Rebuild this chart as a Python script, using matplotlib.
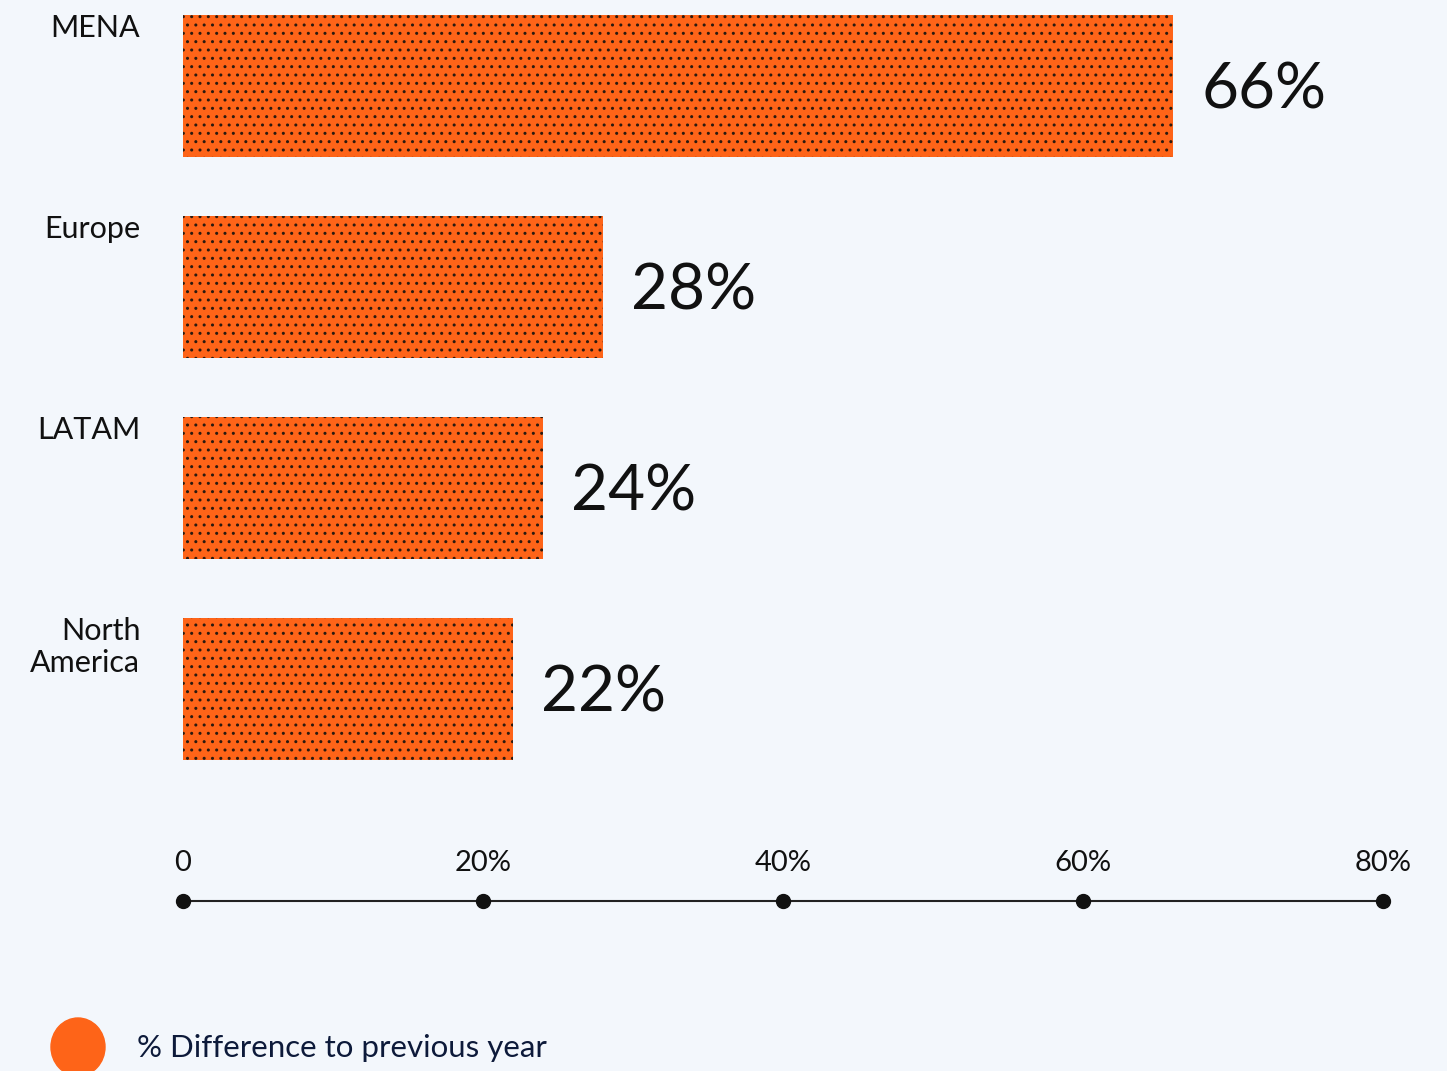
import matplotlib.pyplot as plt
from matplotlib.patches import Ellipse

# Data
regions = ["MENA", "Europe", "LATAM", "North\nAmerica"]
values = [66, 28, 24, 22]
x_ticks = [0, 20, 40, 60, 80]
x_tick_labels = ["0", "20%", "40%", "60%", "80%"]
legend_label = "% Difference to previous year"

BG = "#F3F7FC"
ORANGE = "#FE6418"
W, H = 1447, 1071

plt.rcParams["font.family"] = ["Lato", "DejaVu Sans"]
plt.rcParams["hatch.linewidth"] = 1.0
plt.rcParams["hatch.color"] = "#2a1a10"

fig = plt.figure(figsize=(W / 100, H / 100), dpi=100, facecolor=BG)
ax = fig.add_axes([183 / W, 0, 1200 / W, 1])
ax.set_facecolor(BG)
ax.set_xlim(0, 80)
# bars are spaced ~201 px apart, first center at 86 px from the top
ax.set_ylim((H - 86) / 201, -86 / 201)
ax.axis("off")

ypos = list(range(len(regions)))
ax.barh(ypos, values, height=0.71, color=ORANGE, edgecolor="#2a1a10",
        linewidth=0, hatch="..", zorder=2)

for y, name, v in zip(ypos, regions, values):
    ax.text(-2.85, y - 0.36, name, ha="right", va="top", fontsize=22,
            color="#111111", linespacing=1.2)
    ax.text(v + 1.9, y + 0.02, f"{v}%", ha="left", va="center", fontsize=46,
            color="#111111")

# custom x axis with dots
axis_y = (901 - 86) / 201
ax.plot([x_ticks[0], x_ticks[-1]], [axis_y, axis_y], color="#222222", lw=1.5,
        clip_on=False, zorder=3)
ax.plot(x_ticks, [axis_y] * len(x_ticks), "o", color="#111111", ms=10,
        clip_on=False, zorder=4)
for t, lab in zip(x_ticks, x_tick_labels):
    ax.text(t, axis_y - 0.19, lab, ha="center", va="center", fontsize=21,
            color="#111111")

# legend
fig.patches.append(Ellipse((78 / W, 1 - 1047 / H), 54 / W, 58 / H,
                           transform=fig.transFigure, color=ORANGE))
fig.text(137 / W, 1 - 1048 / H, legend_label, ha="left", va="center",
         fontsize=22.5, color="#0d1a3a")

fig.savefig("out.png", dpi=100, facecolor=BG)
